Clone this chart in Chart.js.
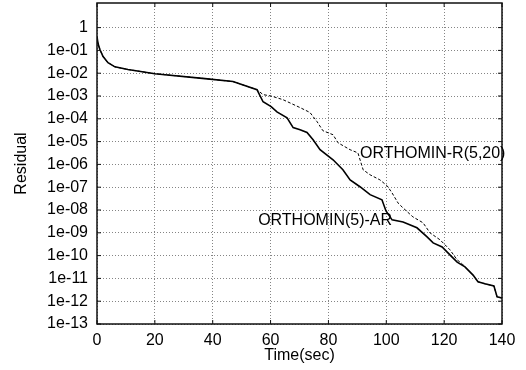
<!DOCTYPE html>
<html>
<head>
    <meta charset="utf-8">
    <script src="https://cdn.jsdelivr.net/npm/chart.js"></script>
    <title>Residual vs time</title>
    <style type="text/css">
        html, body {
            margin: 0;
            padding: 0;
            background: #ffffff;
        }

        .wrap {
            width: 526px;
            height: 370px;
        }
    </style>
</head>
<body>
    <div class="wrap">
        <canvas id="myChart" width="526" height="370"></canvas>
    </div>

    <script>
        // ORTHOMIN(5)-AR (solid line)
        var timeAR = [0, 0.35, 1.0, 2.1, 3.8, 6.2, 10.7, 20, 37.3, 47, 55.3,
            57.4, 60.2, 62.2, 65.7, 67.8, 70.2, 72.6, 74.7, 77.1, 81.6, 85.0, 87.5,
            90.9, 94.4, 98.5, 99.9, 102.0, 105.8, 110.6, 114.1, 116.2, 119.3, 122.0,
            124.5, 127.2, 130.0, 131.7, 134.1, 137.2, 138.3, 140];
        var residAR = [0.4, 0.2, 1.1e-1, 5.4e-2, 2.9e-2, 1.9e-2, 1.45e-2, 9.5e-3, 5.8e-3, 4.3e-3, 1.9e-3,
            5.6e-4, 3.4e-4, 2.0e-4, 1.1e-4, 4.1e-5, 3.3e-5, 2.5e-5, 1.2e-5, 4.4e-6, 1.6e-6, 5.8e-7, 2.1e-7,
            1.05e-7, 4.7e-8, 2.8e-8, 9.1e-9, 3.7e-9, 3.0e-9, 1.66e-9, 6.6e-10, 3.6e-10, 2.4e-10, 1.07e-10,
            5.2e-11, 3.2e-11, 1.4e-11, 7.1e-12, 5.8e-12, 4.7e-12, 1.55e-12, 1.38e-12];

        // ORTHOMIN-R(5,20) (dashed line)
        var timeR = [0, 0.35, 1.0, 2.1, 3.8, 6.2, 10.7, 20, 37.3, 47, 55.3,
            57.4, 60.2, 64.3, 70.2, 73.6, 76.1, 78.1, 81.6, 83.3, 87.5, 90.2, 92.0,
            94.4, 97.8, 100.3, 102.0, 104.1, 105.8, 109.2, 112.7, 115.1, 118.6, 122.0,
            124.5, 126.2, 127.2, 130.0, 131.7, 134.1, 137.2, 138.3, 140];
        var residR = [0.4, 0.2, 1.1e-1, 5.4e-2, 2.9e-2, 1.9e-2, 1.45e-2, 9.5e-3, 5.8e-3, 4.3e-3, 1.9e-3,
            1.15e-3, 1.0e-3, 6.9e-4, 3.1e-4, 1.9e-4, 7.4e-5, 3.0e-5, 2.0e-5, 8.9e-6, 4.4e-6, 3.2e-6, 5.8e-7,
            3.5e-7, 2.1e-7, 1.15e-7, 5.6e-8, 2.0e-8, 1.23e-8, 5.0e-9, 2.75e-9, 1.0e-9, 4.9e-10, 1.8e-10,
            6.5e-11, 4.4e-11, 3.2e-11, 1.4e-11, 7.1e-12, 5.8e-12, 4.7e-12, 1.55e-12, 1.38e-12];

        // tick labels
        var xTicks = [0, 20, 40, 60, 80, 100, 120, 140];
        var yTicks = [1, 1e-1, 1e-2, 1e-3, 1e-4, 1e-5, 1e-6, 1e-7, 1e-8, 1e-9, 1e-10, 1e-11, 1e-12, 1e-13];
        var yTickLabels = ['1', '1e-01', '1e-02', '1e-03', '1e-04', '1e-05', '1e-06', '1e-07',
            '1e-08', '1e-09', '1e-10', '1e-11', '1e-12', '1e-13'];

        // curve labels: text, time, residual
        var curveLabels = ['ORTHOMIN-R(5,20)', 'ORTHOMIN(5)-AR'];
        var curveLabelTime = [90.9, 55.7];
        var curveLabelResid = [3.1e-6, 3.3e-9];

        var FONT = '"Liberation Sans", Arial, Helvetica, sans-serif';

        function toPoints(xs, ys) {
            var pts = [];
            for (let i = 0; i < xs.length; i++) pts.push({ x: xs[i], y: ys[i] });
            return pts;
        }

        // frame on all four sides, inward ticks, and curve labels
        var framePlugin = {
            id: 'frame',
            afterDatasetsDraw: function (chart) {
                var ctx = chart.ctx;
                var a = chart.chartArea;
                var xs = chart.scales.x;
                var ys = chart.scales.y;
                ctx.save();
                ctx.strokeStyle = '#111';
                ctx.lineWidth = 1.5;
                ctx.strokeRect(a.left, a.top, a.right - a.left, a.bottom - a.top);

                ctx.lineWidth = 1;
                ctx.beginPath();
                xTicks.forEach(function (v) {
                    var px = xs.getPixelForValue(v);
                    ctx.moveTo(px, a.bottom); ctx.lineTo(px, a.bottom - 4);
                    ctx.moveTo(px, a.top); ctx.lineTo(px, a.top + 4);
                });
                yTicks.forEach(function (v) {
                    var py = ys.getPixelForValue(v);
                    ctx.moveTo(a.left, py); ctx.lineTo(a.left + 4, py);
                    ctx.moveTo(a.right, py); ctx.lineTo(a.right - 4, py);
                });
                ctx.stroke();

                ctx.fillStyle = '#000';
                ctx.font = '16px ' + FONT;
                ctx.textAlign = 'left';
                ctx.textBaseline = 'middle';
                for (let i = 0; i < curveLabels.length; i++) {
                    ctx.fillText(curveLabels[i],
                        xs.getPixelForValue(curveLabelTime[i]),
                        ys.getPixelForValue(curveLabelResid[i]));
                }
                ctx.restore();
            }
        };

        var ctx = document.getElementById('myChart').getContext('2d');
        var myChart = new Chart(ctx, {
            type: 'line',
            data: {
                datasets: [{
                    label: 'ORTHOMIN(5)-AR',
                    data: toPoints(timeAR, residAR),
                    borderColor: '#000',
                    borderWidth: 1.6,
                    pointRadius: 0,
                    tension: 0,
                    fill: false
                }, {
                    label: 'ORTHOMIN-R(5,20)',
                    data: toPoints(timeR, residR),
                    borderColor: '#000',
                    borderWidth: 1,
                    borderDash: [3, 2],
                    pointRadius: 0,
                    tension: 0,
                    fill: false
                }]
            },
            options: {
                responsive: false,
                animation: false,
                layout: { padding: { left: 0, right: 24, top: 3, bottom: 0 } },
                plugins: {
                    legend: { display: false },
                    tooltip: { enabled: false }
                },
                scales: {
                    x: {
                        type: 'linear',
                        min: 0,
                        max: 140,
                        afterFit: function (s) {
                            s.height = 46;
                            s.paddingLeft = 0;
                            s.paddingRight = 0;
                        },
                        afterBuildTicks: function (s) {
                            s.ticks = xTicks.map(function (v) { return { value: v }; });
                        },
                        grid: {
                            color: '#666',
                            lineWidth: 0.8,
                            drawTicks: false
                        },
                        border: { display: false, dash: [1, 2] },
                        ticks: {
                            color: '#000',
                            padding: 7,
                            maxRotation: 0,
                            font: { family: FONT, size: 16 }
                        },
                        title: {
                            display: true,
                            text: 'Time(sec)',
                            color: '#000',
                            padding: { top: 0, bottom: 5 },
                            font: { family: FONT, size: 16 }
                        }
                    },
                    y: {
                        type: 'logarithmic',
                        min: 1e-13,
                        max: 12,
                        afterFit: function (s) {
                            s.width = 97;
                            s.paddingTop = 0;
                            s.paddingBottom = 0;
                        },
                        afterBuildTicks: function (s) {
                            s.ticks = yTicks.map(function (v) { return { value: v }; });
                        },
                        grid: {
                            color: '#666',
                            lineWidth: 0.8,
                            drawTicks: false
                        },
                        border: { display: false, dash: [1, 2] },
                        ticks: {
                            color: '#000',
                            padding: 9,
                            font: { family: FONT, size: 16 },
                            callback: function (value) {
                                var i = yTicks.indexOf(value);
                                return i >= 0 ? yTickLabels[i] : '';
                            }
                        },
                        title: {
                            display: true,
                            text: 'Residual',
                            color: '#000',
                            padding: { top: 12, bottom: 0 },
                            font: { family: FONT, size: 16 }
                        }
                    }
                }
            },
            plugins: [framePlugin]
        });
    </script>
</body>
</html>
